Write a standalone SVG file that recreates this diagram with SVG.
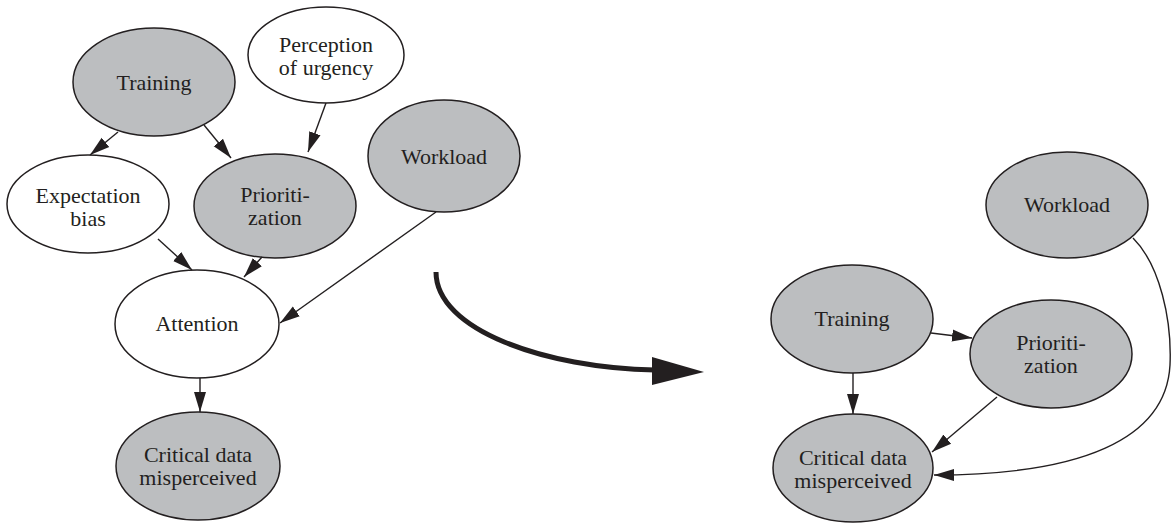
<svg xmlns="http://www.w3.org/2000/svg" width="1171" height="523" viewBox="0 0 1171 523">
  <style>
    .n { stroke: #231f20; stroke-width: 1.5; }
    .g { fill: #bcbec0; }
    .w { fill: #ffffff; }
    .e { fill: none; stroke: #231f20; stroke-width: 1.4; marker-end: url(#head); }
  </style>
  <defs>
    <marker id="head" markerUnits="userSpaceOnUse" markerWidth="22" markerHeight="14" viewBox="0 0 22 14" refX="20" refY="7" orient="auto">
      <path d="M0,1 L20,7 L0,13 z" fill="#231f20"/>
    </marker>
  </defs>

  <g font-family="Liberation Serif, Times New Roman, serif" font-size="22" fill="#231f20" text-anchor="middle">
    <!-- left network -->
    <g id="training-a"><ellipse class="n g" cx="154" cy="82" rx="81" ry="54"/><text x="154" y="90">Training</text></g>
    <g id="urgency-a"><ellipse class="n w" cx="326" cy="55" rx="78" ry="48"/><text x="326" y="52">Perception</text><text x="326" y="75">of urgency</text></g>
    <g id="workload-a"><ellipse class="n g" cx="444" cy="156" rx="76" ry="56"/><text x="444" y="164">Workload</text></g>
    <g id="bias-a"><ellipse class="n w" cx="88" cy="204" rx="81" ry="49"/><text x="88" y="203">Expectation</text><text x="88" y="226">bias</text></g>
    <g id="prior-a"><ellipse class="n g" cx="275" cy="206" rx="81" ry="52"/><text x="275" y="202">Prioriti-</text><text x="275" y="225">zation</text></g>
    <g id="attention-a"><ellipse class="n w" cx="197" cy="324" rx="82" ry="54"/><text x="197" y="331">Attention</text></g>
    <g id="critical-a"><ellipse class="n g" cx="198" cy="466" rx="82" ry="54"/><text x="198" y="462">Critical data</text><text x="198" y="485">misperceived</text></g>

    <!-- right network -->
    <g id="workload-b"><ellipse class="n g" cx="1067" cy="205" rx="81" ry="53"/><text x="1067" y="212">Workload</text></g>
    <g id="training-b"><ellipse class="n g" cx="852" cy="319" rx="81" ry="54"/><text x="852" y="326">Training</text></g>
    <g id="prior-b"><ellipse class="n g" cx="1051" cy="354" rx="81" ry="54"/><text x="1051" y="350">Prioriti-</text><text x="1051" y="373">zation</text></g>
    <g id="critical-b"><ellipse class="n g" cx="853" cy="468" rx="80" ry="54"/><text x="853" y="465">Critical data</text><text x="853" y="488">misperceived</text></g>
  </g>

  <g id="connectors">
    <!-- left -->
    <path class="e" d="M118,132 L90,155"/>
    <path class="e" d="M204,125 L231,158"/>
    <path class="e" d="M326,103 L308,152"/>
    <path class="e" d="M158,239 L192,270"/>
    <path class="e" d="M262,257 L244,277"/>
    <path class="e" d="M436,212 L280,323"/>
    <path class="e" d="M200,378 L200,412"/>
    <!-- right -->
    <path class="e" d="M931,333 L972,338"/>
    <path class="e" d="M853,373 L853,414"/>
    <path class="e" d="M997,397 L932,452"/>
    <path class="e" d="M1133,238 C1160,265 1172,320 1170,365 C1166,440 1080,475 934,475"/>
    <!-- transition arrow between the two networks -->
    <path d="M436,272 C436,330 545,368 655,370" fill="none" stroke="#231f20" stroke-width="5"/>
    <path d="M652,357 L704,372 L652,385 z" fill="#231f20"/>
  </g>
</svg>
